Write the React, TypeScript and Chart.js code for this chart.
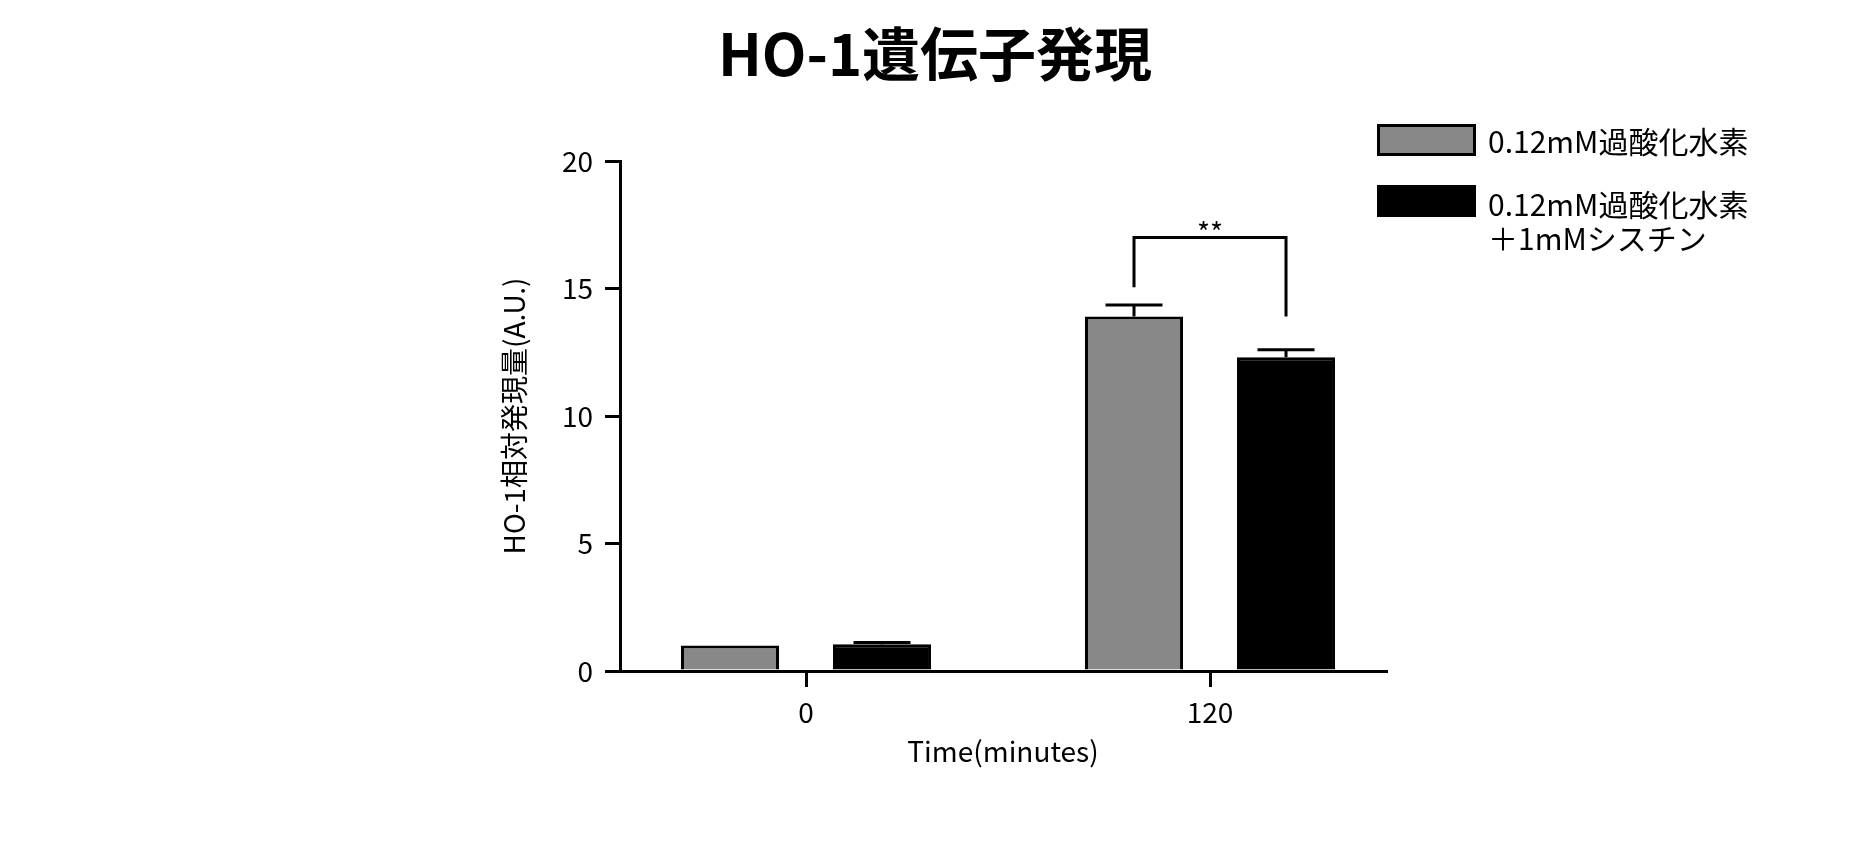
import React, { useEffect, useRef } from 'react';
import { Chart, registerables } from 'chart.js';

Chart.register(...registerables);

// ---- data ----
const chartTitle = 'HO-1遺伝子発現';
const categories = ['0', '120'];
const categoryPositions = [0, 1];
const seriesLabels = [['0.12mM過酸化水素'], ['0.12mM過酸化水素', '＋1mMシスチン']];
const h2o2Values = [1.0, 13.9];
const h2o2Errors = [0, 0.45];
const cystineValues = [1.05, 12.3];
const cystineErrors = [0.07, 0.3];
const yTicks = [0, 5, 10, 15, 20];
const yTitle = 'HO-1相対発現量(A.U.)';
const xTitle = 'Time(minutes)';
// significance bracket: [top line, left leg bottom, right leg bottom, label]
const bracketLevels = [17.0, 15.05, 13.9, 17.2];
const bracketLabel = '**';

const FONT = "'Noto Sans CJK JP', 'Noto Sans', sans-serif";
const GRAY = '#888888';

export default function App() {
  const ref = useRef<HTMLCanvasElement>(null);

  useEffect(() => {
    const canvas = ref.current;
    if (!canvas) return;

    const overlay = {
      id: 'overlay',
      afterDatasetsDraw(chart: any) {
        const c = chart.ctx;
        const ys = chart.scales.y;
        c.save();
        c.strokeStyle = '#000';
        c.lineWidth = 3;
        c.lineCap = 'butt';
        const allVals = [h2o2Values, cystineValues];
        [h2o2Errors, cystineErrors].forEach((errs, di) => {
          const meta = chart.getDatasetMeta(di);
          meta.data.forEach((el: any, i: number) => {
            if (!errs[i]) return;
            const top = ys.getPixelForValue(allVals[di][i] + errs[i]);
            c.beginPath();
            c.moveTo(el.x, el.y);
            c.lineTo(el.x, top);
            c.moveTo(el.x - 28.5, top);
            c.lineTo(el.x + 28.5, top);
            c.stroke();
          });
        });
        // bracket
        const l = chart.getDatasetMeta(0).data[1];
        const r = chart.getDatasetMeta(1).data[1];
        const yTop = ys.getPixelForValue(bracketLevels[0]);
        const yL = ys.getPixelForValue(bracketLevels[1]);
        const yR = ys.getPixelForValue(bracketLevels[2]);
        c.beginPath();
        c.moveTo(l.x, yL);
        c.lineTo(l.x, yTop);
        c.lineTo(r.x, yTop);
        c.lineTo(r.x, yR);
        c.stroke();
        c.fillStyle = '#000';
        c.font = `28px ${FONT}`;
        c.textAlign = 'center';
        c.textBaseline = 'middle';
        c.fillText(bracketLabel, (l.x + r.x) / 2, ys.getPixelForValue(bracketLevels[3]));
        c.restore();
      },
      afterDraw(chart: any) {
        const c = chart.ctx;
        const area = chart.chartArea;
        c.save();
        // title
        c.fillStyle = '#000';
        c.font = `bold 58px ${FONT}`;
        c.textAlign = 'center';
        c.textBaseline = 'middle';
        c.fillText(chartTitle, chart.width / 2, 46);
        // legend
        const bx = area.right - 9;
        const bw = 99;
        const bh = 32;
        const boxes = [
          { y: 116, fill: GRAY },
          { y: 177, fill: '#000' },
        ];
        const rows = [[134], [197, 231]];
        c.font = `30px ${FONT}`;
        c.textAlign = 'left';
        boxes.forEach((b, i) => {
          c.fillStyle = b.fill;
          c.fillRect(bx, b.y, bw, bh);
          c.strokeStyle = '#000';
          c.lineWidth = 3;
          c.strokeRect(bx + 1.5, b.y + 1.5, bw - 3, bh - 3);
          c.fillStyle = '#000';
          seriesLabels[i].forEach((t, j) => {
            c.fillText(t, bx + 111, rows[i][j]);
          });
        });
        c.restore();
      },
    };

    const chart = new Chart(canvas, {
      type: 'bar',
      data: {
        datasets: [
          {
            label: seriesLabels[0].join(''),
            data: categoryPositions.map((x, i) => ({ x, y: h2o2Values[i] })),
            backgroundColor: GRAY,
            borderColor: '#000',
            borderWidth: 3,
          },
          {
            label: seriesLabels[1].join(''),
            data: categoryPositions.map((x, i) => ({ x, y: cystineValues[i] })),
            backgroundColor: '#000',
            borderColor: '#000',
            borderWidth: 3,
          },
        ],
      },
      options: {
        animation: false,
        responsive: true,
        maintainAspectRatio: false,
        categoryPercentage: 0.7525,
        barPercentage: 0.645,
        layout: { padding: { left: 486, right: 476, top: 153, bottom: 69 } },
        plugins: {
          legend: { display: false },
          title: { display: false },
          tooltip: { enabled: false },
        },
        scales: {
          x: {
            type: 'linear',
            offset: false,
            min: -0.4604,
            max: 1.4356,
            afterBuildTicks: (s: any) => {
              s.ticks = categoryPositions.map((v) => ({ value: v }));
            },
            afterFit: (s: any) => {
              s.height = 101;
            },
            ticks: {
              callback: (v: any) => categories[categoryPositions.indexOf(Number(v))] ?? '',
              color: '#000',
              font: { family: FONT, size: 28 },
              padding: 9,
              maxRotation: 0,
              autoSkip: false,
            },
            grid: {
              display: true,
              offset: false,
              drawOnChartArea: false,
              drawTicks: true,
              tickLength: 16,
              lineWidth: 3,
              color: '#000',
            },
            border: { display: true, color: '#000', width: 3 },
            title: {
              display: true,
              text: xTitle,
              color: '#000',
              font: { family: FONT, size: 28 },
              padding: { top: 4, bottom: 4 },
            },
          },
          y: {
            min: 0,
            max: 20,
            afterBuildTicks: (s: any) => {
              s.ticks = yTicks.map((v) => ({ value: v }));
            },
            afterFit: (s: any) => {
              s.width = 126;
            },
            ticks: {
              color: '#000',
              font: { family: FONT, size: 28 },
              padding: 12,
            },
            grid: {
              display: true,
              drawOnChartArea: false,
              drawTicks: true,
              tickLength: 15,
              lineWidth: 3,
              color: '#000',
            },
            border: { display: true, color: '#000', width: 3 },
            title: {
              display: true,
              text: yTitle,
              color: '#000',
              font: { family: FONT, size: 28 },
              padding: { top: 4, bottom: 4 },
            },
          },
        },
      },
      plugins: [overlay],
    } as any);

    return () => chart.destroy();
  }, []);

  return (
    <div style={{ position: 'relative', width: '100%', height: '833px' }}>
      <canvas ref={ref} />
    </div>
  );
}
